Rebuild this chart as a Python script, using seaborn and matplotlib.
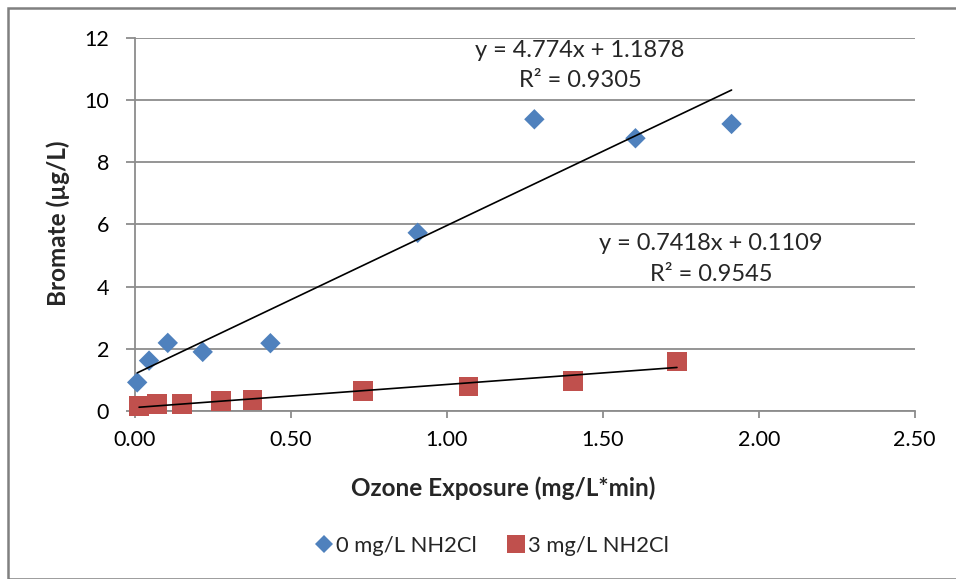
import matplotlib
matplotlib.use("Agg")
import matplotlib.pyplot as plt
import seaborn as sns
import pandas as pd
import numpy as np
from matplotlib.lines import Line2D
from matplotlib.patches import Rectangle

# ---- data ----
series_names = ["0 mg/L NH2Cl", "3 mg/L NH2Cl"]
x_0 = [0.008, 0.046, 0.106, 0.218, 0.435, 0.907, 1.281, 1.605, 1.913]
y_0 = [0.92, 1.62, 2.19, 1.90, 2.18, 5.73, 9.38, 8.77, 9.23]
x_3 = [0.014, 0.071, 0.152, 0.276, 0.378, 0.731, 1.070, 1.405, 1.738]
y_3 = [0.16, 0.23, 0.23, 0.32, 0.35, 0.64, 0.79, 0.97, 1.59]
slopes = [4.774, 0.7418]
intercepts = [1.1878, 0.1109]
r2 = [0.9305, 0.9545]
x_ticks = [0.0, 0.5, 1.0, 1.5, 2.0, 2.5]
y_ticks = [0, 2, 4, 6, 8, 10, 12]

colors = ["#4F81BD", "#C0504D"]
markers = ["D", "s"]
msizes = [108, 200]

sns.set_theme(style="white")
plt.rcParams["font.family"] = ["Lato", "DejaVu Sans"]
FS = 15.5      # tick labels
FS_AX = 17.5   # axis titles
FS_ANN = 17    # trendline labels
FS_LEG = 15.8  # legend

fig = plt.figure(figsize=(9.56, 5.79), dpi=100)
W, H = 956, 579
x0px, x1px = 134.7, 914.7
ytop, ybot = 37.8, 411.0
ax = fig.add_axes([x0px / W, (H - ybot) / H, (x1px - x0px) / W, (ybot - ytop) / H])

# border around chart area
fig.patches.append(Rectangle((8 / W, 0), 1.0, (H - 8) / H, transform=fig.transFigure,
                             fill=False, edgecolor="#808080", linewidth=1.8))

df = pd.concat([
    pd.DataFrame({"x": x_0, "y": y_0, "series": series_names[0]}),
    pd.DataFrame({"x": x_3, "y": y_3, "series": series_names[1]}),
])

for i, name in enumerate(series_names):
    sub = df[df["series"] == name]
    sns.scatterplot(data=sub, x="x", y="y", ax=ax, marker=markers[i], s=msizes[i],
                    color=colors[i], edgecolor="none", zorder=3, legend=False, clip_on=False)
    xs = np.array([sub["x"].min(), sub["x"].max()])
    ax.plot(xs, slopes[i] * xs + intercepts[i], color="black", lw=1.2, zorder=4, clip_on=False)

ax.set_xlim(0, 2.5)
ax.set_ylim(0, 12)
ax.set_xticks(x_ticks)
ax.set_yticks(y_ticks)
ax.set_xticklabels([f"{v:.2f}" for v in x_ticks], fontsize=FS)
ax.set_yticklabels([str(v) for v in y_ticks], fontsize=FS)
ax.grid(axis="y", color="#8C8C8C", lw=1.3)
ax.grid(axis="x", visible=False)
for s in ["top", "right"]:
    ax.spines[s].set_visible(False)
for s in ["left", "bottom"]:
    ax.spines[s].set_color("#8C8C8C")
    ax.spines[s].set_linewidth(1.3)
ax.tick_params(axis="both", which="major", direction="out", width=1.3,
               color="#8C8C8C", labelcolor="black", bottom=True, left=True)
ax.tick_params(axis="x", length=5, pad=9)
ax.tick_params(axis="y", length=6.5, pad=12)

ax.set_xlabel("Ozone Exposure (mg/L*min)", fontsize=FS_AX, fontweight="bold")
ax.set_ylabel("Bromate (µg/L)", fontsize=FS_AX, fontweight="bold")
ax.xaxis.label.set_va("center")
ax.yaxis.label.set_va("center")
ax.xaxis.set_label_coords((503 - x0px) / (x1px - x0px), -(488 - ybot) / (ybot - ytop))
ax.yaxis.set_label_coords((58 - x0px) / (x1px - x0px), (ybot - 223) / (ybot - ytop))

# trendline equation labels
ax.text(1.427, 11.6, f"y = {slopes[0]}x + {intercepts[0]}", ha="center", va="center", fontsize=FS_ANN)
ax.text(1.427, 10.62, f"R² = {r2[0]}", ha="center", va="center", fontsize=FS_ANN)
ax.text(1.847, 5.37, f"y = {slopes[1]}x + {intercepts[1]}", ha="center", va="center", fontsize=FS_ANN)
ax.text(1.847, 4.39, f"R² = {r2[1]}", ha="center", va="center", fontsize=FS_ANN)

handles = [Line2D([], [], linestyle="none", marker=markers[i], color=colors[i],
                  markersize=[9.5, 13][i], markeredgewidth=0) for i in range(2)]
fig.legend(handles=handles, labels=series_names, loc="center", bbox_to_anchor=(491.5 / W, (H - 546) / H),
           ncol=2, frameon=False, fontsize=FS_LEG, handletextpad=0.1, columnspacing=1.3,
           handlelength=0.9)

fig.savefig("out.png", dpi=100)
